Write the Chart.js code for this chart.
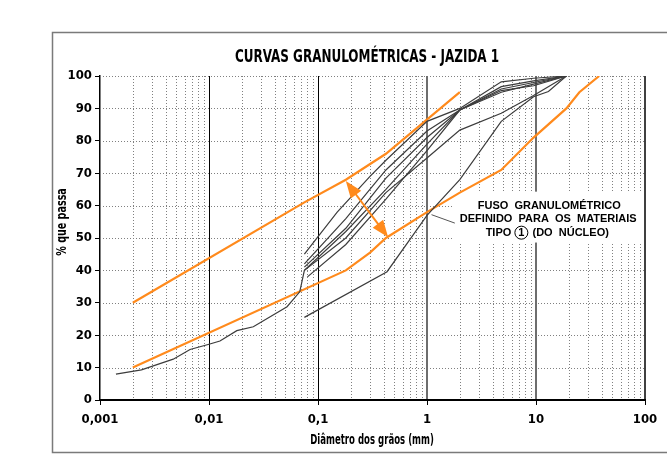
<!DOCTYPE html>
<html>
<head>
<meta charset="utf-8">
<title>Curvas granulométricas - Jazida 1</title>
<script src="https://cdn.jsdelivr.net/npm/chart.js@4.4.1/dist/chart.umd.min.js"></script>
<style>
  html, body { margin: 0; padding: 0; background: #fff; }
  #grafico { display: block; }
</style>
</head>
<body>
<canvas id="grafico" width="667" height="467"></canvas>
<script>
(function () {
  "use strict";

  // eixos
  var xMajor = [0.001, 0.01, 0.1, 1, 10, 100];
  var xLabels = ["0,001", "0,01", "0,1", "1", "10", "100"];
  var yTicks = [0, 10, 20, 30, 40, 50, 60, 70, 80, 90, 100];

  // fuso granulométrico (tipo 1, núcleo)
  var fusoSupD = [0.002, 0.075, 0.18, 0.42, 2];
  var fusoSupP = [30, 61, 68, 76, 95];
  var fusoInfD = [0.002, 0.18, 0.3, 0.42, 1, 2, 4.8, 9.5, 19, 25, 38];
  var fusoInfP = [10, 40, 45.5, 50, 58, 64, 71, 81, 90, 95, 100];

  // curvas das amostras da jazida
  var amostraAD = [0.0014, 0.0024, 0.0047, 0.0067, 0.01, 0.0126, 0.018, 0.0255, 0.052, 0.068, 0.075, 0.18, 0.42, 1, 2, 4.8, 9.5, 19];
  var amostraAP = [8, 9.3, 12.6, 15.6, 17.2, 18.2, 21.4, 22.6, 28.8, 33.4, 40, 52, 65, 79, 89.5, 95, 97.5, 100];
  var amostraBD = [0.075, 0.43, 1, 2, 4.8, 9.5, 13, 19];
  var amostraBP = [25.5, 39.6, 57, 68, 86, 93.6, 95.2, 100];
  var amostraCD = [0.075, 0.15, 0.3, 0.42, 1, 2, 4.8, 9.5, 19];
  var amostraCP = [45, 58, 69, 74, 86, 90, 98.2, 99.3, 100];
  var amostraDD = [0.075, 0.18, 0.42, 1, 2, 4.8, 9.5, 19];
  var amostraDP = [42, 56, 71, 83, 89.5, 96.7, 98.5, 100];
  var amostraED = [0.075, 0.18, 0.42, 1, 2, 4.8, 9.5, 19];
  var amostraEP = [41, 53, 68.5, 81, 89.5, 96, 98, 100];
  var amostraFD = [0.075, 0.18, 0.42, 1, 2, 4.8, 9.5, 19];
  var amostraFP = [40, 50, 64, 74.7, 83.3, 88.5, 94, 100];
  var amostraGD = [0.08, 0.18, 0.42, 1, 2, 4.8, 9.5, 19];
  var amostraGP = [38, 48, 62, 77, 89.5, 95.5, 97, 100];

  // anotações (em unidades do gráfico)
  var setaD = [0.18, 0.44];
  var setaP = [67.6, 50.2];
  var chamadaD = [1.1, 1.8];
  var chamadaP = [57.2, 54.6];
  var caixaD = [1.75, 100];
  var caixaP = [48.6, 64.3];
  var legendaLinhas = ["FUSO  GRANULOMÉTRICO", "DEFINIDO  PARA  OS  MATERIAIS"];

  var LARANJA = "#ff8a1c";
  var CINZA = "#3c3c3c";
  var NARROW = "'Liberation Sans Narrow', 'Arial Narrow', 'DejaVu Sans Condensed', sans-serif";
  var LARGA = "'Liberation Sans', Arial, sans-serif";

  function pontos(d, p) {
    return d.map(function (v, i) {
      return { x: v, y: p[i] };
    });
  }

  function curva(d, p, cor, largura) {
    return {
      data: pontos(d, p),
      showLine: true,
      borderColor: cor,
      borderWidth: largura,
      pointRadius: 0,
      pointHoverRadius: 0,
      tension: 0,
      fill: false
    };
  }

  function traco(ctx, x1, y1, x2, y2) {
    ctx.beginPath();
    ctx.moveTo(x1, y1);
    ctx.lineTo(x2, y2);
    ctx.stroke();
  }

  function ponta(ctx, xTip, yTip, xDe, yDe, comp, meia) {
    var ang = Math.atan2(yTip - yDe, xTip - xDe);
    var bx = xTip - comp * Math.cos(ang);
    var by = yTip - comp * Math.sin(ang);
    ctx.beginPath();
    ctx.moveTo(xTip, yTip);
    ctx.lineTo(bx + meia * Math.sin(ang), by - meia * Math.cos(ang));
    ctx.lineTo(bx - meia * Math.sin(ang), by + meia * Math.cos(ang));
    ctx.closePath();
    ctx.fill();
  }

  // texto condensado (a fonte estreita original não existe aqui)
  function textoEstreito(ctx, texto, x, y, escala, rot) {
    ctx.save();
    ctx.translate(x, y);
    if (rot) {
      ctx.rotate(rot);
    }
    ctx.scale(escala, 1);
    ctx.textAlign = "center";
    ctx.textBaseline = "middle";
    ctx.fillText(texto, 0, 0);
    ctx.restore();
  }

  var xMinor = [];
  xMajor.slice(0, -1).forEach(function (dec) {
    for (var k = 2; k <= 9; k++) {
      xMinor.push(dec * k);
    }
  });

  var decoracao = {
    id: "decoracao",
    beforeDatasetsDraw: function (chart) {
      var ctx = chart.ctx;
      var xs = chart.scales.x;
      var ys = chart.scales.y;
      var a = chart.chartArea;
      ctx.save();
      ctx.lineWidth = 1;
      ctx.strokeStyle = "#808080";
      ctx.setLineDash([1, 2]);
      xMinor.forEach(function (v) {
        var px = Math.round(xs.getPixelForValue(v)) + 0.5;
        traco(ctx, px, a.top, px, a.bottom);
      });
      yTicks.forEach(function (v) {
        if (v === 0) {
          return;
        }
        var py = Math.round(ys.getPixelForValue(v)) + 0.5;
        traco(ctx, a.left, py, a.right, py);
      });
      ctx.setLineDash([]);
      xMajor.forEach(function (v, i) {
        if (i === 0 || i === xMajor.length - 1) {
          return;
        }
        var px = Math.round(xs.getPixelForValue(v));
        if (v >= 1) {
          ctx.strokeStyle = "#6e6e6e";
          ctx.lineWidth = 2;
          traco(ctx, px, a.top, px, a.bottom);
        } else {
          ctx.strokeStyle = "#000";
          ctx.lineWidth = 1;
          traco(ctx, px + 0.5, a.top, px + 0.5, a.bottom);
        }
      });

      // caixa branca da legenda
      var bx1 = xs.getPixelForValue(caixaD[0]);
      var bx2 = xs.getPixelForValue(caixaD[1]);
      var by1 = ys.getPixelForValue(caixaP[1]);
      var by2 = ys.getPixelForValue(caixaP[0]);
      ctx.fillStyle = "#fff";
      ctx.fillRect(bx1, by1, bx2 - bx1, by2 - by1);

      // borda direita
      ctx.strokeStyle = "#000";
      ctx.lineWidth = 1.5;
      traco(ctx, a.right, a.top, a.right, a.bottom);
      ctx.restore();
    },
    afterDatasetsDraw: function (chart) {
      var ctx = chart.ctx;
      var xs = chart.scales.x;
      var ys = chart.scales.y;
      var a = chart.chartArea;
      ctx.save();

      // seta dupla laranja
      var x1 = xs.getPixelForValue(setaD[0]);
      var y1 = ys.getPixelForValue(setaP[0]);
      var x2 = xs.getPixelForValue(setaD[1]);
      var y2 = ys.getPixelForValue(setaP[1]);
      ctx.strokeStyle = LARANJA;
      ctx.fillStyle = LARANJA;
      ctx.lineWidth = 2;
      traco(ctx, x1 + (x2 - x1) * 0.2, y1 + (y2 - y1) * 0.2, x1 + (x2 - x1) * 0.8, y1 + (y2 - y1) * 0.8);
      ponta(ctx, x1, y1, x2, y2, 17, 6.5);
      ponta(ctx, x2, y2, x1, y1, 17, 6.5);

      // chamada
      ctx.strokeStyle = "#555";
      ctx.lineWidth = 1;
      traco(ctx, xs.getPixelForValue(chamadaD[0]), ys.getPixelForValue(chamadaP[0]),
        xs.getPixelForValue(chamadaD[1]), ys.getPixelForValue(chamadaP[1]));

      // texto da legenda
      var bx1 = xs.getPixelForValue(caixaD[0]);
      var bx2 = xs.getPixelForValue(caixaD[1]);
      var by1 = ys.getPixelForValue(caixaP[1]);
      var cx = (bx1 + bx2) / 2 - 1;
      ctx.fillStyle = "#000";
      ctx.font = "bold 11px " + LARGA;
      ctx.textAlign = "center";
      ctx.textBaseline = "middle";
      ctx.fillText(legendaLinhas[0], cx + 1, by1 + 14);
      ctx.fillText(legendaLinhas[1], cx, by1 + 27.5);
      var ly = by1 + 41;
      ctx.textAlign = "left";
      var t1 = "TIPO ";
      var t2 = "  (DO  NÚCLEO)";
      var wCirc = 14;
      var total = ctx.measureText(t1).width + wCirc + ctx.measureText(t2).width;
      var sx = cx - total / 2;
      ctx.fillText(t1, sx, ly);
      var ccx = sx + ctx.measureText(t1).width + wCirc / 2;
      ctx.lineWidth = 1;
      ctx.strokeStyle = "#000";
      ctx.beginPath();
      ctx.arc(ccx, ly, 6.5, 0, Math.PI * 2);
      ctx.stroke();
      ctx.textAlign = "center";
      ctx.fillText("1", ccx, ly + 0.5);
      ctx.textAlign = "left";
      ctx.fillText(t2, ccx + wCirc / 2 - 2, ly);

      // título
      ctx.font = "bold 18px " + NARROW;
      textoEstreito(ctx, "CURVAS GRANULOMÉTRICAS - JAZIDA 1", 367, 57, 0.74);

      // títulos dos eixos
      ctx.font = "bold 14px " + NARROW;
      textoEstreito(ctx, "Diâmetro dos grãos (mm)", 372, 440, 0.68);
      textoEstreito(ctx, "% que passa", 62, 222, 0.76, -Math.PI / 2);

      // moldura externa
      ctx.strokeStyle = "#7a7a7a";
      ctx.lineWidth = 1.5;
      ctx.beginPath();
      ctx.moveTo(chart.width, 32.5);
      ctx.lineTo(52.5, 32.5);
      ctx.lineTo(52.5, 452.5);
      ctx.lineTo(chart.width, 452.5);
      ctx.stroke();

      // eixo inferior
      ctx.strokeStyle = "#000";
      ctx.lineWidth = 2;
      traco(ctx, a.left, a.bottom, a.right + 1, a.bottom);
      ctx.restore();
    }
  };

  var datasets = [
    curva(amostraAD, amostraAP, CINZA, 1.2),
    curva(amostraBD, amostraBP, CINZA, 1.2),
    curva(amostraCD, amostraCP, CINZA, 1.2),
    curva(amostraDD, amostraDP, CINZA, 1.2),
    curva(amostraED, amostraEP, CINZA, 1.2),
    curva(amostraFD, amostraFP, CINZA, 1.2),
    curva(amostraGD, amostraGP, CINZA, 1.2),
    curva(fusoSupD, fusoSupP, LARANJA, 2.2),
    curva(fusoInfD, fusoInfP, LARANJA, 2.2)
  ];

  var ctx = document.getElementById("grafico").getContext("2d");
  new Chart(ctx, {
    type: "scatter",
    data: { datasets: datasets },
    options: {
      responsive: false,
      animation: false,
      layout: { padding: { left: 52, right: 22, top: 76, bottom: 0 } },
      plugins: {
        legend: { display: false },
        tooltip: { enabled: false },
        title: { display: false }
      },
      scales: {
        x: {
          type: "logarithmic",
          min: 0.001,
          max: 100,
          afterBuildTicks: function (scale) {
            scale.ticks = xMajor.map(function (v) {
              return { value: v, major: true };
            });
          },
          afterFit: function (scale) {
            scale.height = 67;
          },
          ticks: {
            autoSkip: false,
            maxRotation: 0,
            padding: 7,
            color: "#000",
            font: { family: NARROW, size: 13, weight: "bold" },
            callback: function (value, index) {
              return xLabels[index];
            }
          },
          grid: {
            display: true,
            drawOnChartArea: false,
            drawTicks: true,
            tickLength: 5,
            color: "#000",
            lineWidth: 1
          },
          border: { display: false },
          title: { display: false }
        },
        y: {
          type: "linear",
          min: 0,
          max: 100,
          afterBuildTicks: function (scale) {
            scale.ticks = yTicks.map(function (v) {
              return { value: v };
            });
          },
          afterFit: function (scale) {
            scale.width = 48;
          },
          ticks: {
            padding: 3,
            color: "#000",
            font: { family: NARROW, size: 13, weight: "bold" }
          },
          grid: {
            display: true,
            drawOnChartArea: false,
            drawTicks: true,
            tickLength: 5,
            color: "#000",
            lineWidth: 1
          },
          border: { display: true, color: "#000", width: 1.5 },
          title: { display: false }
        }
      }
    },
    plugins: [decoracao]
  });
})();
</script>
</body>
</html>
